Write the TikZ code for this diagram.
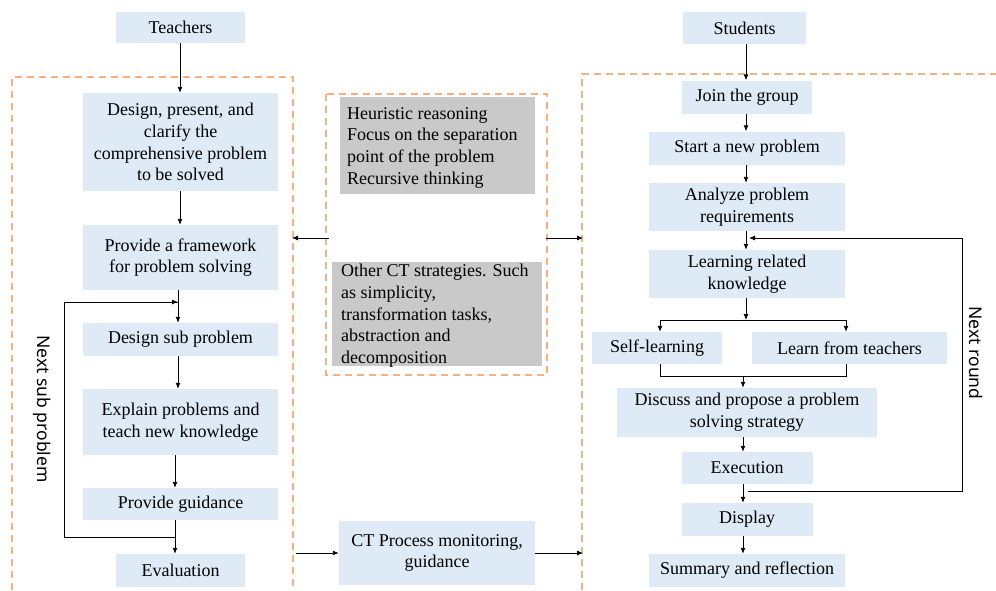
\documentclass[tikz,border=0pt]{standalone}
\usepackage{fontspec}
\setmainfont{Liberation Serif}
\newfontfamily\sansf{Noto Sans}
\usetikzlibrary{arrows.meta}
\definecolor{lblue}{HTML}{DEEAF6}
\definecolor{gbox}{HTML}{C9C9C9}
\definecolor{orng}{HTML}{F4B183}
\begin{document}
\begin{tikzpicture}[x=1pt,y=-1pt,
  bx/.style={fill=lblue, inner sep=0pt, align=center, font=\fontsize{18}{21.7}\selectfont},
  gb/.style={fill=gbox, inner sep=0pt},
  gtxt/.style={inner sep=0pt, align=left, anchor=north west, font=\fontsize{18}{21.7}\selectfont},
  rtxt/.style={inner sep=0pt, rotate=-90, font=\sansf\fontsize{17.5}{20}\selectfont},
  arr/.style={line width=0.9pt, -{Latex[length=6pt,width=5pt]}},
  ln/.style={line width=0.9pt},
  dsh/.style={draw=orng, line width=2pt, dash pattern=on 7pt off 5pt}]
\useasboundingbox (0,0) rectangle (996,590);

% dashed frames
\draw[dsh] (12,590) -- (12,77) -- (293,77) -- (293,590);
\draw[dsh] (326,94) rectangle (547,375);
\draw[dsh] (582,590) -- (582,74) -- (996,74);

% left column
\node[bx, minimum width=129pt, minimum height=31pt] (teach) at (180.5,27.5) {Teachers};
\node[bx, minimum width=195pt, minimum height=98pt] (design) at (180.5,142) {Design, present, and\\clarify the\\comprehensive problem\\to be solved};
\node[bx, minimum width=195pt, minimum height=65pt] (frame) at (180.5,257.5) {Provide a framework\\for problem solving};
\node[bx, minimum width=195pt, minimum height=33pt] (sub) at (180.5,339.5) {Design sub problem};
\node[bx, minimum width=195pt, minimum height=66pt] (explain) at (180.5,422) {Explain problems and\\teach new knowledge};
\node[bx, minimum width=195pt, minimum height=32pt] (guide) at (180.5,504) {Provide guidance};
\node[bx, minimum width=129pt, minimum height=33pt] (eval) at (180.5,570.5) {Evaluation};
\node[rtxt] (nsp) at (42,409) {Next sub problem};

\draw[arr] (teach.south -| 180,0) -- (design.north -| 180,0);
\draw[arr] (design.south -| 180,0) -- (frame.north -| 180,0);
\draw[arr] (frame.south -| 178,0) -- (sub.north -| 178,0);
\draw[arr] (sub.south -| 178,0) -- (explain.north -| 178,0);
\draw[arr] (explain.south -| 175,0) -- (guide.north -| 175,0);
\draw[arr] (guide.south -| 175,0) -- (eval.north -| 175,0);
\coordinate (lb) at (175,537);
\coordinate (lt) at (178,302);
\draw[ln] (lb) -- (64,537) -- (64,302) -- (lt);
\draw[arr] (64,302) -- (lt);

% middle
\node[gb, minimum width=195pt, minimum height=97pt] (g1) at (437.5,145.5) {};
\node[gtxt] (g1t) at (347,107) {Heuristic reasoning\\Focus on the separation\\point of the problem\\Recursive thinking};
\node[gb, minimum width=210pt, minimum height=104pt] (g2) at (437,314) {};
\node[gtxt] (g2t) at (341,264) {Other CT strategies. Such\\as simplicity,\\transformation tasks,\\abstraction and\\decomposition};
\node[bx, minimum width=196pt, minimum height=64pt] (ct) at (437,553) {CT Process monitoring,\\guidance};

\coordinate (ml) at (329,238);
\coordinate (lr) at (292,238);
\coordinate (mr) at (546,238);
\coordinate (rl) at (583,238);
\draw[arr] (ml) -- (lr);
\draw[arr] (mr) -- (rl);
\coordinate (cl) at (296,553);
\coordinate (cr) at (583,553);
\draw[arr] (cl) -- (ct.west);
\draw[arr] (ct.east) -- (cr);

% right column
\node[bx, minimum width=123pt, minimum height=32pt] (stud) at (744.5,28) {Students};
\node[bx, minimum width=130pt, minimum height=33pt] (join) at (747,97) {Join the group};
\node[bx, minimum width=196pt, minimum height=33pt] (start) at (747,148) {Start a new problem};
\node[bx, minimum width=196pt, minimum height=48pt] (anal) at (747,207) {Analyze problem\\requirements};
\node[bx, minimum width=196pt, minimum height=48pt] (learn) at (747,274) {Learning related\\knowledge};
\node[bx, minimum width=130pt, minimum height=32pt] (self) at (657,348) {Self-learning};
\node[bx, minimum width=195pt, minimum height=32pt] (lft) at (849.5,348) {Learn from teachers};
\node[bx, minimum width=260pt, minimum height=49pt] (disc) at (747,412.5) {Discuss and propose a problem\\solving strategy};
\node[bx, minimum width=131pt, minimum height=32pt] (exec) at (747,468) {Execution};
\node[bx, minimum width=131pt, minimum height=33pt] (disp) at (747,519.5) {Display};
\node[bx, minimum width=196pt, minimum height=33pt] (summ) at (747,570.5) {Summary and reflection};
\node[rtxt] (nr) at (976,353) {Next round};

\draw[arr] (stud.south -| 746,0) -- (join.north -| 746,0);
\draw[arr] (join.south -| 746,0) -- (start.north -| 746,0);
\draw[arr] (start.south -| 746,0) -- (anal.north -| 746,0);
\draw[arr] (anal.south -| 746,0) -- (learn.north -| 746,0);
\coordinate (sp) at (746,320);
\draw[arr] (learn.south -| 746,0) -- (sp);
\draw[ln] (660,320) -- (846,320);
\draw[arr] (660,320) -- (self.north -| 660,0);
\draw[arr] (846,320) -- (lft.north -| 846,0);
\draw[ln] (self.south -| 660,0) -- (660,376) -- (846,376) -- (lft.south -| 846,0);
\coordinate (mg) at (743,376);
\draw[arr] (mg) -- (disc.north -| 743,0);
\draw[arr] (disc.south -| 743,0) -- (exec.north -| 743,0);
\draw[arr] (exec.south -| 743,0) -- (disp.north -| 743,0);
\draw[arr] (disp.south -| 743,0) -- (summ.north -| 743,0);
\coordinate (rs) at (748,491);
\coordinate (re) at (749,238);
\draw[ln] (rs) -- (962,491) -- (962,238) -- (800,238);
\draw[arr] (800,238) -- (re);
\end{tikzpicture}
\end{document}
